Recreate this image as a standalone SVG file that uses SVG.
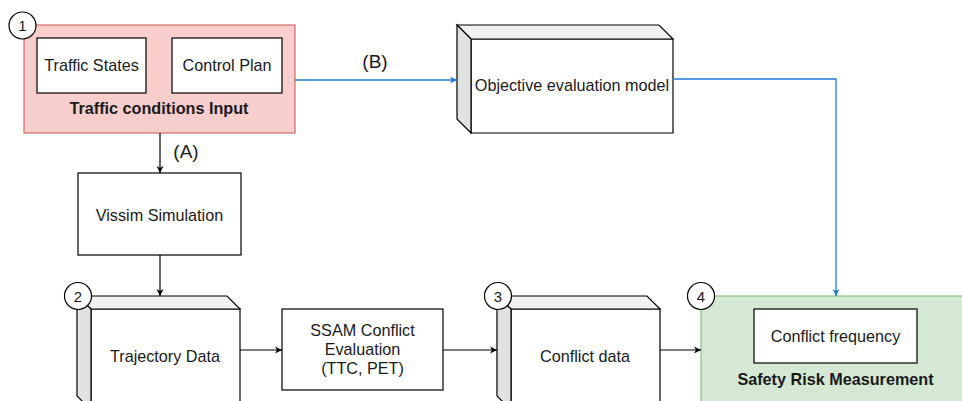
<svg xmlns="http://www.w3.org/2000/svg" width="962" height="401" viewBox="0 0 962 401">
<style>
text{font-family:"Liberation Sans",Arial,sans-serif;font-size:16.2px;fill:#1a1a1a;text-anchor:middle}
.b{font-weight:bold}
.box{fill:#fff;stroke:#000;stroke-width:1.2}
.front{fill:#fff;stroke:#000;stroke-width:1.2}
.top{fill:#f1f1f1;stroke:#000;stroke-width:1.2}
.side{fill:#e2e2e2;stroke:#000;stroke-width:1.2}
.num{fill:#fff;stroke:#000;stroke-width:1.2}
.nt{font-size:15px}
.k{stroke:#000;stroke-width:1.2;fill:none}
.bl{stroke:#1f78d6;stroke-width:1.3;fill:none}
.lbl{font-size:19px}
</style>
<defs>
<marker id="ak" markerWidth="10" markerHeight="10" refX="8" refY="5" orient="auto" markerUnits="userSpaceOnUse">
<path d="M1,1.5 L8,5 L1,8.5 L3,5 Z" fill="#000"/>
</marker>
<marker id="ab" markerWidth="10" markerHeight="10" refX="8" refY="5" orient="auto" markerUnits="userSpaceOnUse">
<path d="M1,1.5 L8,5 L1,8.5 L3,5 Z" fill="#1f78d6"/>
</marker>
</defs>

<g id="n1">
<rect x="24" y="25" width="271" height="108" fill="#f8cecc" stroke="#d06a66" stroke-width="1.2"/>
<rect class="box" x="37" y="38" width="109" height="55"/>
<text x="91.5" y="71">Traffic States</text>
<rect class="box" x="172" y="38" width="110" height="55"/>
<text x="227" y="71">Control Plan</text>
<text class="b" x="159" y="114">Traffic conditions Input</text>
<circle class="num" cx="22.5" cy="25.5" r="13.5"/>
<text class="nt" x="22.5" y="31">1</text>
</g>

<g id="objective">
<path class="front" d="M471,39 H673 V133 H471 Z"/>
<path class="top" d="M457,25 H659 L673,39 H471 Z"/>
<path class="side" d="M457,25 L471,39 V133 L457,119 Z"/>
<text x="572" y="91">Objective evaluation model</text>
</g>

<g id="vissim">
<rect class="box" x="78" y="173" width="163" height="82"/>
<text x="159.5" y="221">Vissim Simulation</text>
</g>

<g id="trajectory">
<path class="front" d="M91,309 H240 V410 H91 Z"/>
<path class="top" d="M77,296 H227 L240,309 H91 Z"/>
<path class="side" d="M77,296 L91,309 V410 L77,396 Z"/>
<text x="165" y="362">Trajectory Data</text>
<circle class="num" cx="78" cy="296" r="13.5"/>
<text class="nt" x="78" y="301.5">2</text>
</g>

<g id="ssam">
<rect class="box" x="282" y="309" width="161" height="81"/>
<text x="362.5" y="336">SSAM Conflict</text>
<text x="362.5" y="355">Evaluation</text>
<text x="362.5" y="374">(TTC, PET)</text>
</g>

<g id="conflict">
<path class="front" d="M511,309 H660 V410 H511 Z"/>
<path class="top" d="M497,296 H647 L660,309 H511 Z"/>
<path class="side" d="M497,296 L511,309 V410 L497,396 Z"/>
<text x="585" y="362">Conflict data</text>
<circle class="num" cx="498" cy="296" r="13.5"/>
<text class="nt" x="498" y="301.5">3</text>
</g>

<g id="safety">
<rect x="701" y="296" width="280" height="120" fill="#d5e8d4" stroke="#8cc07a" stroke-width="1.2"/>
<rect class="box" x="754" y="309" width="163" height="54"/>
<text x="835.5" y="342">Conflict frequency</text>
<text class="b" x="835.5" y="385">Safety Risk Measurement</text>
<circle class="num" cx="701" cy="296" r="13.5"/>
<text class="nt" x="701" y="301.5">4</text>
</g>

<g id="connectors">
<path class="k" d="M160,133 V173" marker-end="url(#ak)"/>
<text class="lbl" x="186" y="158">(A)</text>
<path class="k" d="M160,255 V296" marker-end="url(#ak)"/>
<path class="k" d="M240,350 H282" marker-end="url(#ak)"/>
<path class="k" d="M443,350 H497" marker-end="url(#ak)"/>
<path class="k" d="M660,350 H701" marker-end="url(#ak)"/>
<path class="bl" d="M295,80 H457" marker-end="url(#ab)"/>
<text class="lbl" x="375" y="68">(B)</text>
<path class="bl" d="M673,79 H836 V296" marker-end="url(#ab)"/>
</g>
</svg>
